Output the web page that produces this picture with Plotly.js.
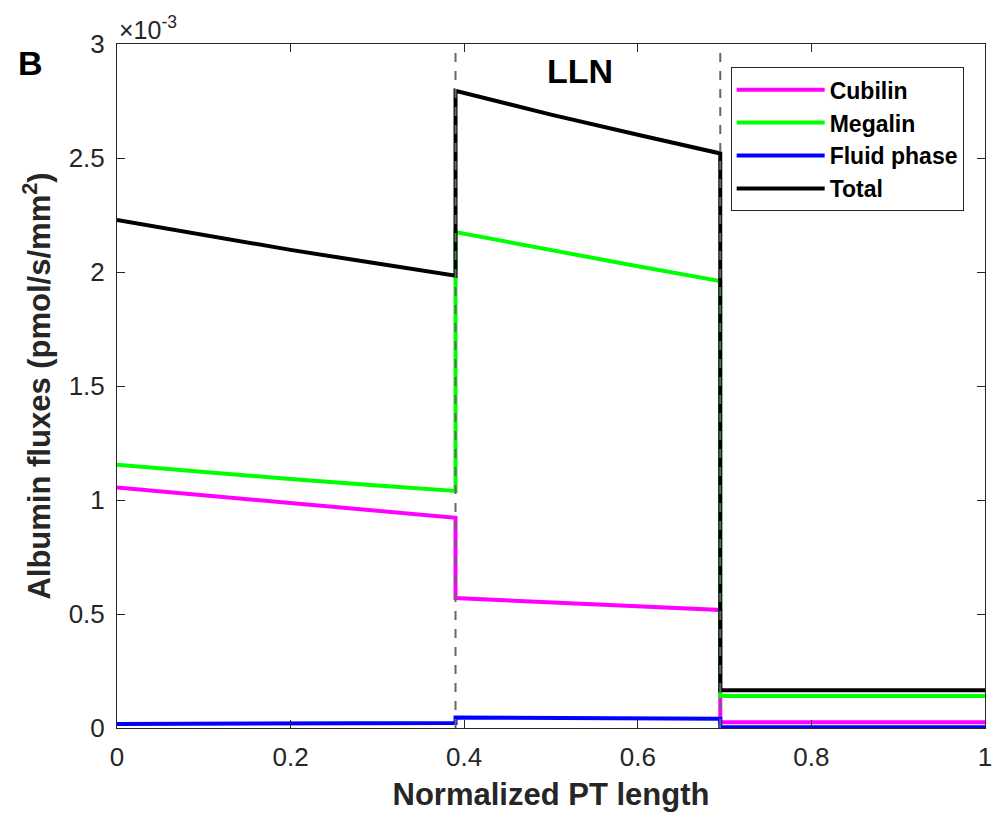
<!DOCTYPE html>
<html>
<head>
<meta charset="utf-8">
<script src="https://cdn.plot.ly/plotly-3.0.1.min.js"></script>
<style>html,body{margin:0;padding:0;background:#fff;}#chart{width:997px;height:819px;}</style>
</head>
<body>
<div id="chart"></div>
<script>
// Normalized PT length positions (segments: S1 0-0.39, LLN 0.39-0.695, S3 0.695-1)
const ptLength = [0, 0.1, 0.2, 0.3, 0.39, 0.39, 0.5, 0.6, 0.695, 0.695, 1];
// Albumin fluxes, units of 1e-3 pmol/s/mm^2
const cubilin  = [1.055, 1.020, 0.985, 0.952, 0.922, 0.570, 0.551, 0.535, 0.518, 0.025, 0.025];
const megalin  = [1.155, 1.122, 1.092, 1.064, 1.040, 2.175, 2.095, 2.025, 1.960, 0.140, 0.140];
const fluid    = [0.018, 0.019, 0.020, 0.021, 0.022, 0.046, 0.044, 0.042, 0.041, 0.003, 0.003];
const total    = [2.228, 2.161, 2.097, 2.037, 1.984, 2.795, 2.690, 2.602, 2.520, 0.166, 0.166];
const seriesNames = ["Cubilin", "Megalin", "Fluid phase", "Total"];
const seriesColors = ["#FF00FF", "#00FF00", "#0000FF", "#000000"];
const boundaries = [0.39, 0.695];
const xTicks = [0, 0.2, 0.4, 0.6, 0.8, 1];
const yTicks = [0, 0.5, 1, 1.5, 2, 2.5, 3];

const FONT = "Liberation Sans, Arial, sans-serif";
const ys = [cubilin, megalin, fluid, total];
const traces = ys.map((y, i) => ({
  x: ptLength, y: y, type: "scatter", mode: "lines",
  name: seriesNames[i], line: {color: seriesColors[i], width: 4}
}));

const axisCommon = {
  showline: true, mirror: "ticks", linecolor: "#262626", linewidth: 1,
  ticks: "inside", ticklen: 8, tickcolor: "#262626", tickwidth: 1,
  showgrid: false, zeroline: false,
  tickfont: {family: FONT, size: 26, color: "#262626"}
};

const layout = {
  width: 997, height: 819,
  margin: {l: 117, r: 12, t: 44, b: 91},
  paper_bgcolor: "#fff", plot_bgcolor: "#fff",
  showlegend: true,
  legend: {
    x: 0.707, y: 0.966, xanchor: "left", yanchor: "top",
    bgcolor: "#fff", bordercolor: "#262626", borderwidth: 1,
    font: {family: FONT, size: 23, color: "#000", weight: "bold"},
    itemwidth: 88, tracegroupgap: 0
  },
  xaxis: Object.assign({}, axisCommon, {
    range: [0, 1], tickvals: xTicks, ticktext: xTicks.map(String),
    ticklabelstandoff: 6,
    title: {text: "<b>Normalized PT length</b>", standoff: 12,
      font: {family: FONT, size: 31, color: "#262626"}}
  }),
  yaxis: Object.assign({}, axisCommon, {
    range: [0, 3], tickvals: yTicks, ticktext: yTicks.map(String),
    ticklabelstandoff: 6,
    title: {text: "<b>Albumin fluxes (pmol/s/mm<sup>2</sup>)</b>", standoff: 8,
      font: {family: FONT, size: 31, color: "#262626"}}
  }),
  shapes: boundaries.map(b => ({
    type: "line", xref: "x", yref: "paper", x0: b, x1: b, y0: 0, y1: 1,
    line: {color: "#666", width: 2, dash: "dash"}, layer: "above"
  })),
  annotations: [
    {text: "<b>LLN</b>", x: 0.533, y: 2.88, xref: "x", yref: "y", showarrow: false,
     xanchor: "center", yanchor: "middle",
     font: {family: FONT, size: 34, color: "#000"}},
    {text: "<b>B</b>", x: (30 - 117) / 868, y: (728 - 63) / 684, xref: "paper", yref: "paper", showarrow: false,
     xanchor: "center", yanchor: "middle",
     font: {family: FONT, size: 34, color: "#000"}},
    {text: "×10<sup>-3</sup>", x: 0, y: 1, xref: "paper", yref: "paper", xanchor: "left", yanchor: "bottom",
     yshift: -2, showarrow: false,
     font: {family: FONT, size: 25, color: "#262626"}}
  ]
};

Plotly.newPlot("chart", traces, layout, {displayModeBar: false, staticPlot: true});
</script>
</body>
</html>
